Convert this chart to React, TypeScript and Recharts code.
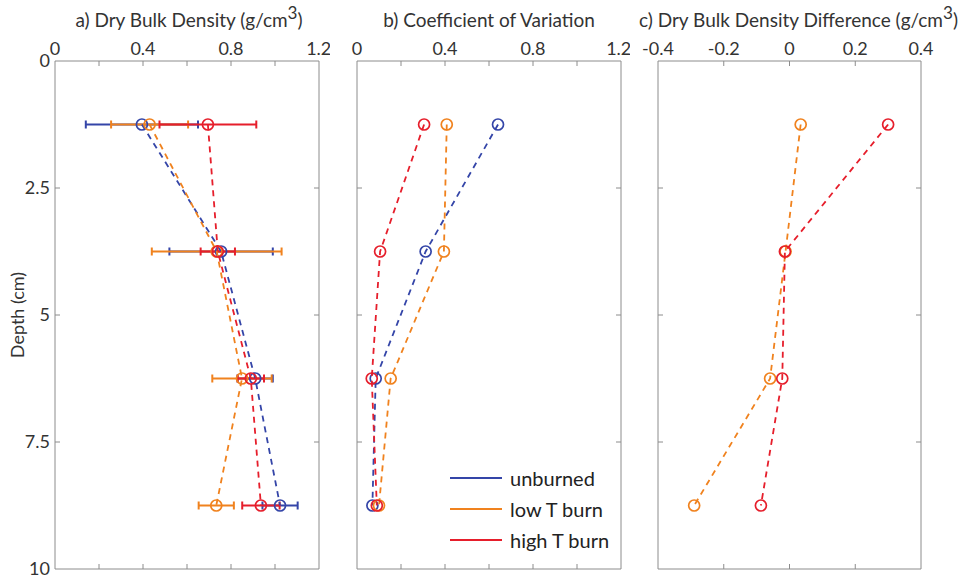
import { ScatterChart, Scatter, XAxis, YAxis, ErrorBar } from 'recharts';

const DEPTHS = [1.25, 3.75, 6.25, 8.75];
const DEPTH_TICKS = [0, 2.5, 5, 7.5, 10];
const DEPTH_MINOR = [2.5, 5, 7.5];

const SERIES_NAMES = ['unburned', 'low T burn', 'high T burn'];
const COLORS = ['#3445a8', '#f0821e', '#e61e2b'];

// a) dry bulk density, mean and spread
const DENSITY_UNBURNED = [0.395, 0.755, 0.91, 1.023];
const DENSITY_UNBURNED_ERR = [0.255, 0.235, 0.08, 0.08];
const DENSITY_LOW_T = [0.43, 0.735, 0.85, 0.733];
const DENSITY_LOW_T_ERR = [0.175, 0.295, 0.135, 0.08];
const DENSITY_HIGH_T = [0.695, 0.74, 0.89, 0.936];
const DENSITY_HIGH_T_ERR = [0.22, 0.078, 0.06, 0.085];

// b) coefficient of variation
const CV_UNBURNED = [0.641, 0.312, 0.085, 0.07];
const CV_LOW_T = [0.408, 0.395, 0.153, 0.1];
const CV_HIGH_T = [0.305, 0.105, 0.067, 0.09];

// c) difference from unburned
const DIFF_LOW_T = [0.034, -0.012, -0.059, -0.29];
const DIFF_HIGH_T = [0.3, -0.014, -0.022, -0.087];

const A_LABEL_TICKS = [0, 0.4, 0.8, 1.2];
const A_MINOR_TICKS = [0.2, 0.4, 0.6, 0.8, 1.0];
const C_LABEL_TICKS = [-0.4, -0.2, 0, 0.2, 0.4];
const C_MINOR_TICKS = [-0.2, 0, 0.2];

const AXIS = '#8c8c8c';
const FONT = 'Lato, "Open Sans", sans-serif';

const rows = (xs: number[], errs?: number[]) =>
  DEPTHS.map((d, i) => ({ depth: d, x: xs[i], err: errs ? errs[i] : 0 }));

const ring = (color: string) => (p: any) => (
  <circle cx={p.cx} cy={p.cy} r={5.5} fill="none" stroke={color} strokeWidth={1.7} />
);

const noLabel = () => <g />;

interface Series {
  color: string;
  data: { depth: number; x: number; err: number }[];
  errors?: boolean;
}

interface PanelProps {
  left: number;
  width: number;
  margin: { top: number; right: number; bottom: number; left: number };
  domain: [number, number];
  labelTicks: number[];
  minorTicks: number[];
  depthLabels?: boolean;
  series: Series[];
}

function Panel({ left, width, margin, domain, labelTicks, minorTicks, depthLabels, series }: PanelProps) {
  return (
    <div style={{ position: 'absolute', left, top: 0 }}>
      <ScatterChart width={width} height={579} margin={margin}>
        <XAxis
          xAxisId="top"
          dataKey="x"
          type="number"
          orientation="top"
          domain={domain}
          ticks={labelTicks}
          allowDataOverflow
          tickLine={false}
          tickSize={3}
          tickMargin={3}
          height={35}
          stroke={AXIS}
          tick={{ fill: '#333', fontSize: 18, fontFamily: FONT }}
        />
        <XAxis
          xAxisId="topTicks"
          dataKey="x"
          type="number"
          orientation="top"
          mirror
          domain={domain}
          ticks={minorTicks}
          allowDataOverflow
          tick={noLabel}
          axisLine={false}
          tickSize={5}
          stroke={AXIS}
        />
        <XAxis
          xAxisId="bottom"
          dataKey="x"
          type="number"
          orientation="bottom"
          mirror
          domain={domain}
          ticks={minorTicks}
          allowDataOverflow
          tick={noLabel}
          tickSize={5}
          stroke={AXIS}
        />
        {depthLabels && (
          <YAxis
            yAxisId="labels"
            dataKey="depth"
            type="number"
            domain={[0, 10]}
            reversed
            ticks={DEPTH_TICKS}
            allowDataOverflow
            tickLine={false}
            tickSize={2}
            tickMargin={3}
            width={40}
            stroke={AXIS}
            tick={{ fill: '#333', fontSize: 18, fontFamily: FONT }}
            label={{ value: 'Depth (cm)', angle: -90, position: 'center', dx: -17, fill: '#333', fontSize: 18, fontFamily: FONT }}
          />
        )}
        <YAxis
          yAxisId="left"
          dataKey="depth"
          type="number"
          mirror
          domain={[0, 10]}
          reversed
          ticks={DEPTH_MINOR}
          allowDataOverflow
          tick={noLabel}
          axisLine={!depthLabels}
          tickSize={5}
          stroke={AXIS}
        />
        <YAxis
          yAxisId="right"
          dataKey="depth"
          type="number"
          orientation="right"
          mirror
          domain={[0, 10]}
          reversed
          ticks={DEPTH_MINOR}
          allowDataOverflow
          tick={noLabel}
          tickSize={5}
          stroke={AXIS}
        />
        {series.map((s, i) => (
          <Scatter
            key={i}
            data={s.data}
            xAxisId="top"
            yAxisId="left"
            fill="none"
            line={{ stroke: s.color, strokeWidth: 1.8, strokeDasharray: '6 5' }}
            lineType="joint"
            shape={ring(s.color)}
            isAnimationActive={false}
          >
            {s.errors && (
              <ErrorBar dataKey="err" direction="x" width={4} stroke={s.color} strokeWidth={2} />
            )}
          </Scatter>
        ))}
      </ScatterChart>
    </div>
  );
}

const titleStyle: React.CSSProperties = {
  position: 'absolute',
  top: 8,
  fontSize: 19,
  fontFamily: FONT,
  color: '#333',
  whiteSpace: 'nowrap',
  lineHeight: '24px',
};

const sup = <span style={{ fontSize: '0.9em', position: 'relative', top: '-0.45em' }}>3</span>;

export default function App() {
  return (
    <div style={{ position: 'absolute', left: 0, top: 0, width: 973, height: 579, background: '#fff', fontFamily: FONT }}>
      <div style={{ ...titleStyle, left: 189, transform: 'translateX(-50%)' }}>
        a) Dry Bulk Density (g/cm{sup})
      </div>
      <div style={{ ...titleStyle, left: 489, transform: 'translateX(-50%)' }}>
        b) Coefficient of Variation
      </div>
      <div style={{ ...titleStyle, left: 639 }}>
        c) Dry Bulk Density Difference (g/cm{sup})
      </div>

      <Panel
        left={0}
        width={330}
        margin={{ top: 26, right: 11, bottom: 10, left: 15 }}
        domain={[0, 1.2]}
        labelTicks={A_LABEL_TICKS}
        minorTicks={A_MINOR_TICKS}
        depthLabels
        series={[
          { color: COLORS[0], data: rows(DENSITY_UNBURNED, DENSITY_UNBURNED_ERR), errors: true },
          { color: COLORS[1], data: rows(DENSITY_LOW_T, DENSITY_LOW_T_ERR), errors: true },
          { color: COLORS[2], data: rows(DENSITY_HIGH_T, DENSITY_HIGH_T_ERR), errors: true },
        ]}
      />
      <Panel
        left={340}
        width={290}
        margin={{ top: 26, right: 9, bottom: 10, left: 17 }}
        domain={[0, 1.2]}
        labelTicks={A_LABEL_TICKS}
        minorTicks={A_MINOR_TICKS}
        series={[
          { color: COLORS[0], data: rows(CV_UNBURNED) },
          { color: COLORS[1], data: rows(CV_LOW_T) },
          { color: COLORS[2], data: rows(CV_HIGH_T) },
        ]}
      />
      <Panel
        left={630}
        width={343}
        margin={{ top: 26, right: 52, bottom: 10, left: 28 }}
        domain={[-0.4, 0.4]}
        labelTicks={C_LABEL_TICKS}
        minorTicks={C_MINOR_TICKS}
        series={[
          { color: COLORS[1], data: rows(DIFF_LOW_T) },
          { color: COLORS[2], data: rows(DIFF_HIGH_T) },
        ]}
      />

      <div style={{ position: 'absolute', left: 450, top: 462 }}>
        {SERIES_NAMES.map((name, i) => (
          <div key={name} style={{ display: 'flex', alignItems: 'center', height: 31 }}>
            <svg width={52} height={4} style={{ marginRight: 8 }}>
              <line x1={0} y1={2} x2={52} y2={2} stroke={COLORS[i]} strokeWidth={2} />
            </svg>
            <span style={{ fontSize: 20, color: '#222' }}>{name}</span>
          </div>
        ))}
      </div>
    </div>
  );
}
